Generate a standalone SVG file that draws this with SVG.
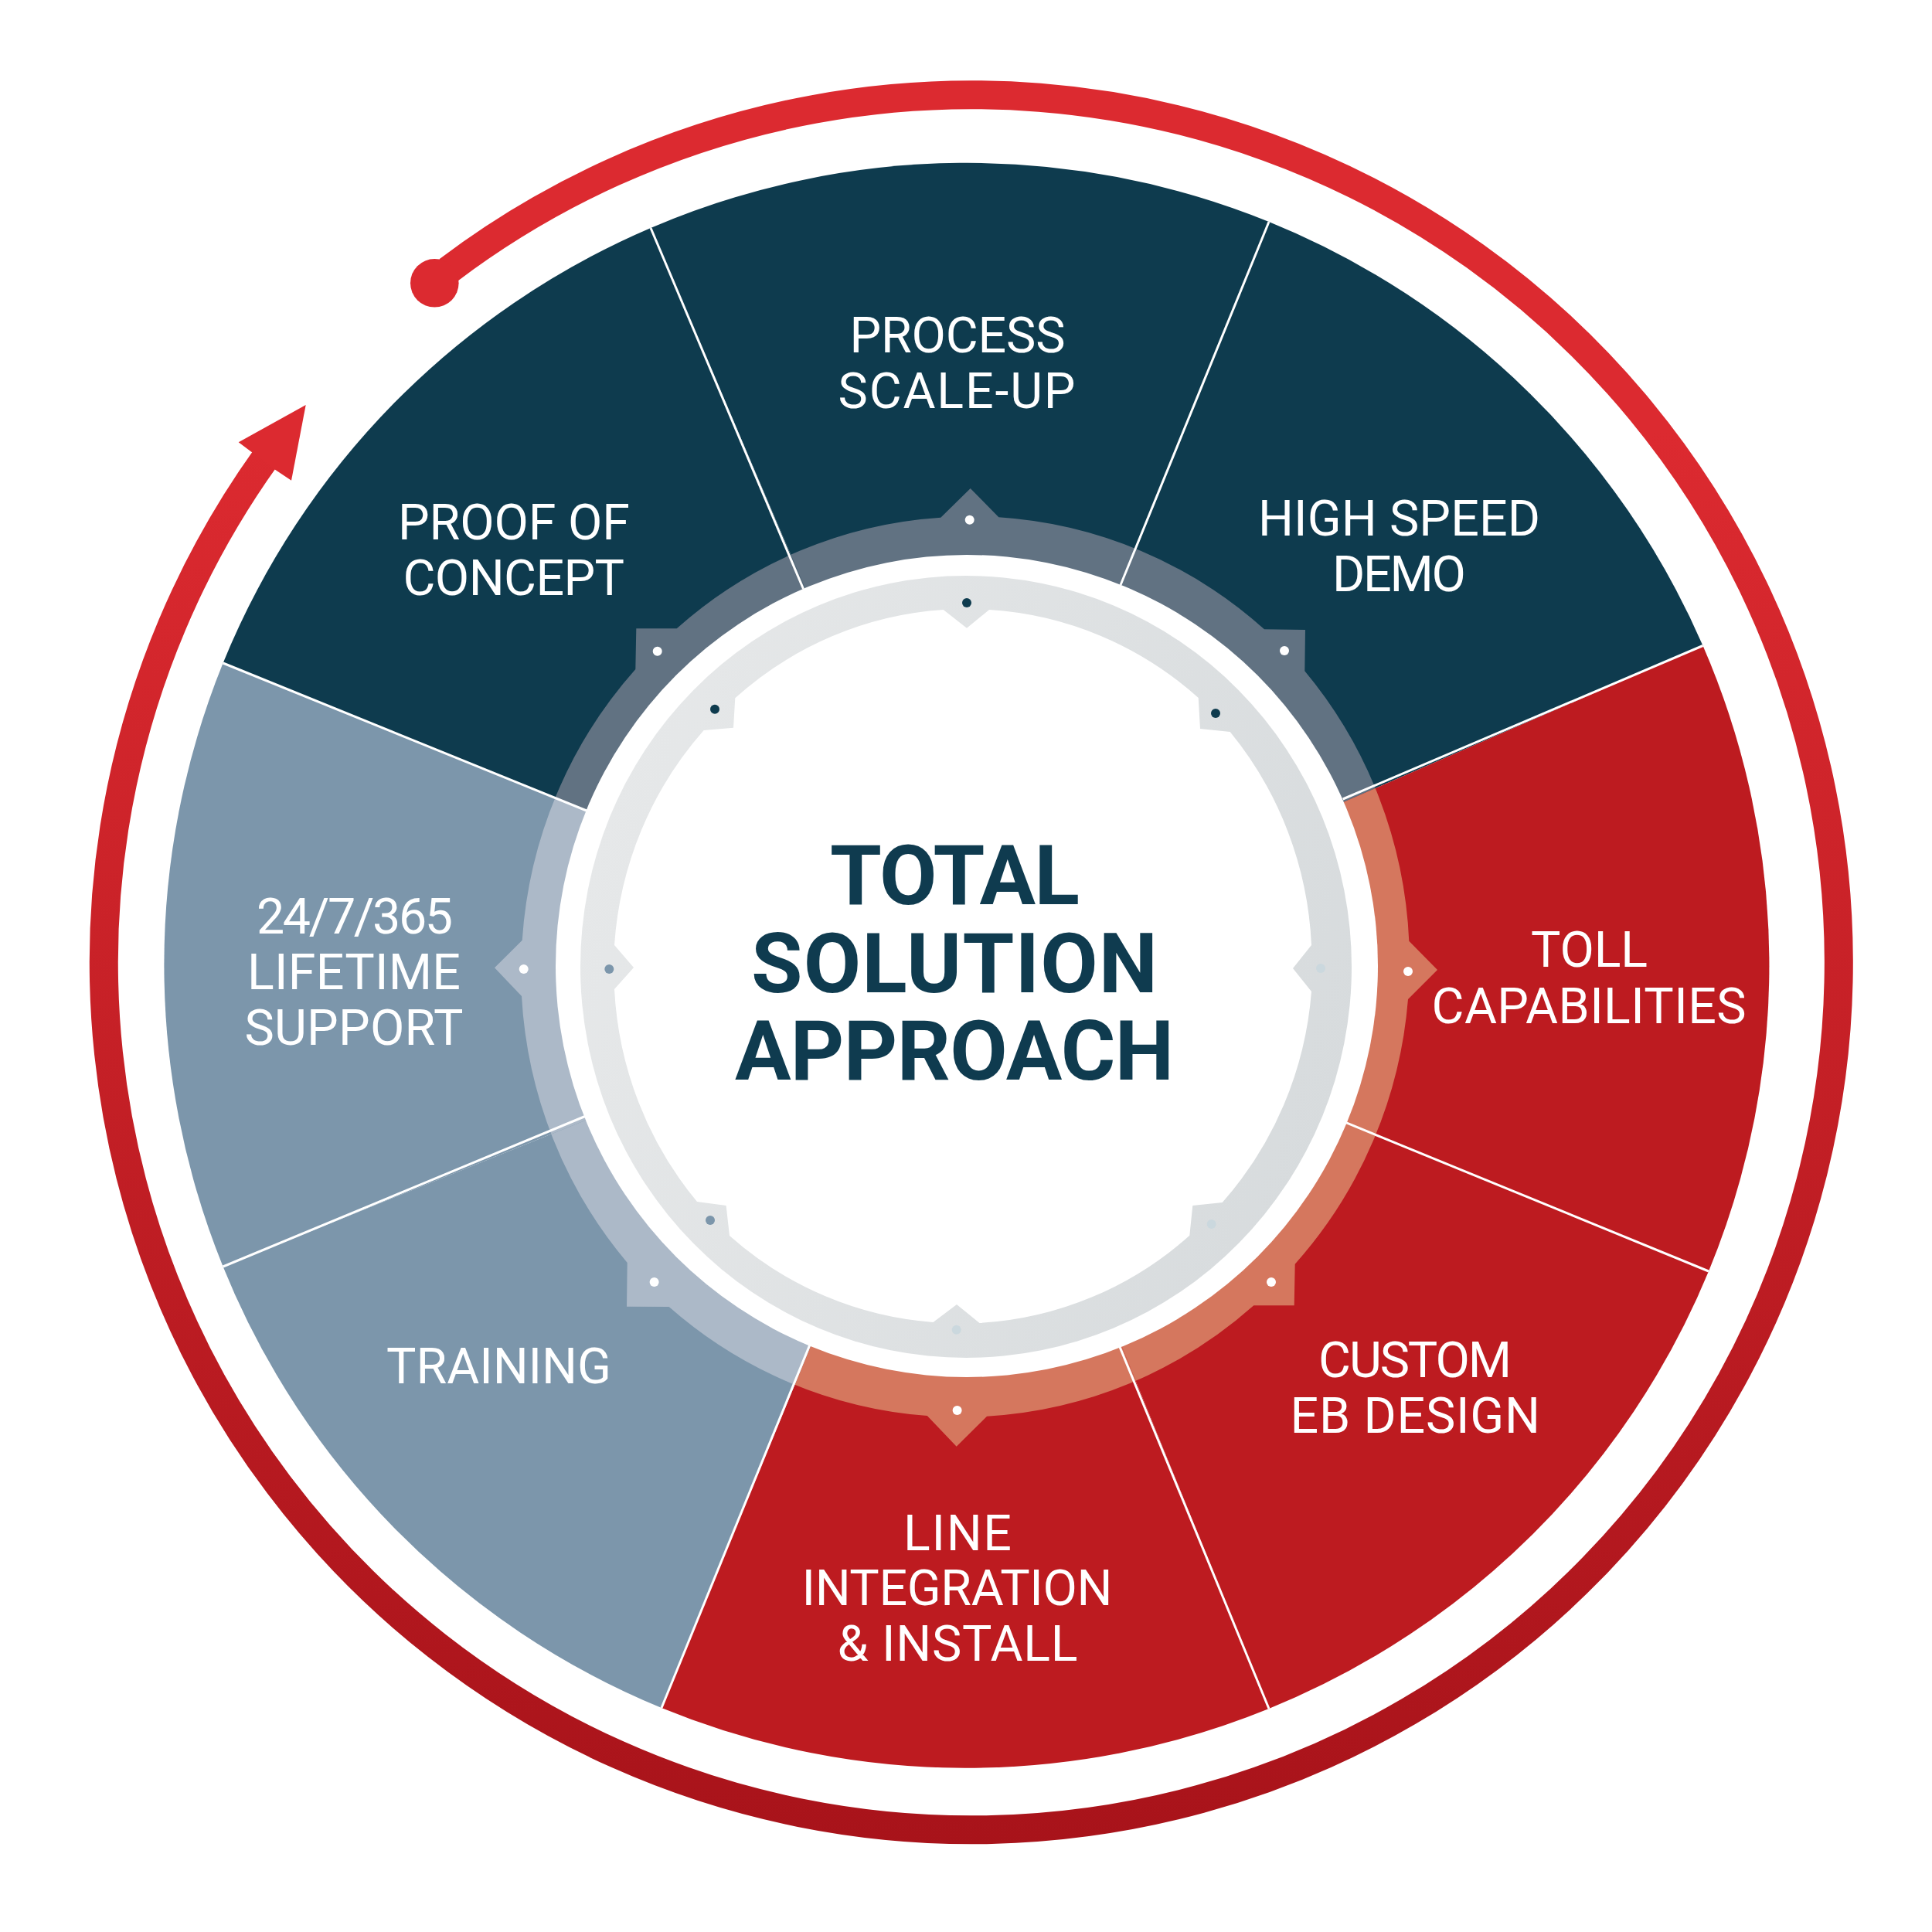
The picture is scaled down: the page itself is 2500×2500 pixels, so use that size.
<svg xmlns="http://www.w3.org/2000/svg" width="2500" height="2500" viewBox="0 0 2500 2500">
<style>
.lbl{font-family:"Roboto","Liberation Sans",sans-serif;font-size:64.5px;fill:#fff}
.ttl{font-family:"Roboto","Liberation Sans",sans-serif;font-weight:700;font-size:108px;fill:#0f3b4f}
.spoke{stroke:#fff;stroke-width:3;fill:none}
.dk{fill:#0e3b4e}.rd{fill:#bd1b20}.st{fill:#7c96ab}
.rdk{fill:#617282}.rrd{fill:#d5775e}.rst{fill:#acb9c8}
.wd{fill:#fff}.ld{fill:#cbd8de}
</style>
<defs>
<linearGradient id="arrowGrad" gradientUnits="userSpaceOnUse" x1="0" y1="100" x2="0" y2="2390">
<stop offset="0.2" stop-color="#dc2a30"/><stop offset="1" stop-color="#a8131a"/>
</linearGradient>
<linearGradient id="ringGrad" gradientUnits="userSpaceOnUse" x1="760" y1="1100" x2="1750" y2="1400">
<stop offset="0" stop-color="#e6e8e9"/><stop offset="1" stop-color="#d7dbdd"/>
</linearGradient>
<path id="ringShape" d="M1292.3,669.3 A573.5,581.5 0 0 1 1636,814.3 L1689,815 L1688.3,868.3 A573.5,581.5 0 0 1 1823.3,1217.7 L1860,1255 L1822,1293 A573.5,581.5 0 0 1 1675.7,1635.7 L1674.7,1689.3 L1622.3,1689.3 A573.5,581.5 0 0 1 1277,1832.7 L1237.7,1871.7 L1199.8,1832 A573.5,581.5 0 0 1 865.7,1691 L811,1690.7 L811.7,1634 A573.5,581.5 0 0 1 675,1289 L640,1252.3 L675.7,1216.7 A573.5,581.5 0 0 1 822.3,866 L823.3,813.3 L875.7,813.3 A573.5,581.5 0 0 1 1217.3,669.7 L1255.7,632 Z"/>
<path id="w1" d="M1251.5,1250 L288.6,858 A1038.5,1038.5 0 0 1 842,295 Z"/>
<path id="w2" d="M1251.5,1250 L842,295 A1038.5,1038.5 0 0 1 1642,287 Z"/>
<path id="w3" d="M1251.5,1250 L1642,287 A1038.5,1038.5 0 0 1 2203.5,835.5 Z"/>
<path id="w4" d="M1251.5,1250 L2203.5,835.5 A1038.5,1038.5 0 0 1 2211,1645 Z"/>
<path id="w5" d="M1251.5,1250 L2211,1645 A1038.5,1038.5 0 0 1 1642,2211 Z"/>
<path id="w6" d="M1251.5,1250 L1642,2211 A1038.5,1038.5 0 0 1 856,2210 Z"/>
<path id="w7" d="M1251.5,1250 L856,2210 A1038.5,1038.5 0 0 1 288.6,1639 Z"/>
<path id="w8" d="M1251.5,1250 L288.6,1639 A1038.5,1038.5 0 0 1 288.6,858 Z"/>
<clipPath id="c1"><use href="#w1"/></clipPath>
<clipPath id="c2"><use href="#w2"/></clipPath>
<clipPath id="c3"><use href="#w3"/></clipPath>
<clipPath id="c4"><use href="#w4"/></clipPath>
<clipPath id="c5"><use href="#w5"/></clipPath>
<clipPath id="c6"><use href="#w6"/></clipPath>
<clipPath id="c7"><use href="#w7"/></clipPath>
<clipPath id="c8"><use href="#w8"/></clipPath>
</defs>
<rect width="2500" height="2500" fill="#fff"/>

<g id="cycle-arrow">
<path d="M579.7,350 A1122.5,1122.5 0 1 1 344,592" fill="none" stroke="url(#arrowGrad)" stroke-width="37"/>
<circle cx="562.3" cy="366.3" r="31.3" fill="#dc2a30"/>
<polygon points="395.7,524 308.7,572.3 326,585.3 356,607.7 377,621.7" fill="#dc2a30"/>
</g>

<g id="node-proof-of-concept"><use href="#w1" class="dk"/><use href="#ringShape" class="rdk" clip-path="url(#c1)"/></g>
<g id="node-process-scale-up"><use href="#w2" class="dk"/><use href="#ringShape" class="rdk" clip-path="url(#c2)"/></g>
<g id="node-high-speed-demo"><use href="#w3" class="dk"/><use href="#ringShape" class="rdk" clip-path="url(#c3)"/></g>
<g id="node-toll-capabilities"><use href="#w4" class="rd"/><use href="#ringShape" class="rrd" clip-path="url(#c4)"/></g>
<g id="node-custom-eb-design"><use href="#w5" class="rd"/><use href="#ringShape" class="rrd" clip-path="url(#c5)"/></g>
<g id="node-line-integration"><use href="#w6" class="rd"/><use href="#ringShape" class="rrd" clip-path="url(#c6)"/></g>
<g id="node-training"><use href="#w7" class="st"/><use href="#ringShape" class="rst" clip-path="url(#c7)"/></g>
<g id="node-lifetime-support"><use href="#w8" class="st"/><use href="#ringShape" class="rst" clip-path="url(#c8)"/></g>

<g id="connectors">
<line class="spoke" x1="842" y1="295" x2="1039.5" y2="762"/>
<line class="spoke" x1="1642" y1="287" x2="1450" y2="757"/>
<line class="spoke" x1="2203.5" y1="835.5" x2="1737.7" y2="1034"/>
<line class="spoke" x1="2211" y1="1645" x2="1741.7" y2="1452.7"/>
<line class="spoke" x1="1642" y1="2211" x2="1449" y2="1743"/>
<line class="spoke" x1="856" y1="2210" x2="1048" y2="1740"/>
<line class="spoke" x1="288.6" y1="1639" x2="757" y2="1444.5"/>
<line class="spoke" x1="288.6" y1="858" x2="759" y2="1049"/>
</g>

<g id="hub">
<circle cx="1251" cy="1250" r="532" fill="#fff"/>
<ellipse cx="1250" cy="1251" rx="499" ry="506" fill="url(#ringGrad)"/>
<path fill="#fff" d="M1280,789 A451.5,462 0 0 1 1550.7,903 L1553,943 L1591.7,947 A451.5,462 0 0 1 1697,1223 L1673,1253 L1697,1283 A451.5,462 0 0 1 1581.7,1556 L1543.3,1560 L1539.3,1598.7 A451.5,462 0 0 1 1267.5,1712 L1238,1688 L1207.5,1711 A451.5,462 0 0 1 944,1599 L939.6,1560 L902,1555 A451.5,462 0 0 1 795,1280 L820,1252 L795,1223 A451.5,462 0 0 1 910.7,945 L949,941.7 L951.3,903.3 A451.5,462 0 0 1 1220.7,789 L1251,812.7 Z"/>
</g>

<g id="ring-dots">
<circle class="wd" cx="1254.7" cy="672.7" r="6"/><circle class="wd" cx="1662" cy="842" r="6"/><circle class="wd" cx="1822" cy="1257" r="6"/><circle class="wd" cx="1645" cy="1659" r="6"/><circle class="wd" cx="1238.6" cy="1825" r="6"/><circle class="wd" cx="846.6" cy="1659" r="6"/><circle class="wd" cx="677.7" cy="1254" r="6"/><circle class="wd" cx="850.7" cy="842.7" r="6"/>
<circle class="dk" cx="1251" cy="780" r="6"/><circle class="dk" cx="1573" cy="923" r="6"/><circle class="ld" cx="1709" cy="1253" r="6"/><circle class="ld" cx="1567.7" cy="1584" r="6"/><circle class="ld" cx="1237.7" cy="1720.7" r="6"/><circle class="st" cx="919" cy="1579" r="6"/><circle class="st" cx="788.3" cy="1254" r="6"/><circle class="dk" cx="925" cy="917.7" r="6"/>
</g>

<g id="labels">
<text class="lbl" x="515" y="697.5" textLength="300" lengthAdjust="spacing">PROOF OF</text>
<text class="lbl" x="521.5" y="769.5" textLength="286.5" lengthAdjust="spacing">CONCEPT</text>
<text class="lbl" x="1099.5" y="456" textLength="279" lengthAdjust="spacing">PROCESS</text>
<text class="lbl" x="1084.5" y="528" textLength="307" lengthAdjust="spacing">SCALE-UP</text>
<text class="lbl" x="1628" y="692.5" textLength="365" lengthAdjust="spacing">HIGH SPEED</text>
<text class="lbl" x="1724" y="765" textLength="173" lengthAdjust="spacing">DEMO</text>
<text class="lbl" x="1981" y="1251" textLength="151" lengthAdjust="spacing">TOLL</text>
<text class="lbl" x="1852.5" y="1324" textLength="407" lengthAdjust="spacing">CAPABILITIES</text>
<text class="lbl" x="1706" y="1781.5" textLength="250" lengthAdjust="spacing">CUSTOM</text>
<text class="lbl" x="1669.5" y="1854" textLength="323.5" lengthAdjust="spacing">EB DESIGN</text>
<text class="lbl" x="1169" y="2005.5" textLength="140" lengthAdjust="spacing">LINE</text>
<text class="lbl" x="1037.5" y="2077" textLength="402" lengthAdjust="spacing">INTEGRATION</text>
<text class="lbl" x="1083.5" y="2149" textLength="311" lengthAdjust="spacing">&amp; INSTALL</text>
<text class="lbl" x="500" y="1789.5" textLength="291" lengthAdjust="spacing">TRAINING</text>
<text class="lbl" x="332" y="1208" textLength="254" lengthAdjust="spacing">24/7/365</text>
<text class="lbl" x="320" y="1280" textLength="276" lengthAdjust="spacing">LIFETIME</text>
<text class="lbl" x="316.5" y="1351.7" textLength="283" lengthAdjust="spacing">SUPPORT</text>
</g>

<g id="node-center-title">
<text class="ttl" x="1074" y="1169.7" textLength="323" lengthAdjust="spacing">TOTAL</text>
<text class="ttl" x="972" y="1284" textLength="526" lengthAdjust="spacing">SOLUTION</text>
<text class="ttl" x="951" y="1397" textLength="568" lengthAdjust="spacing">APPROACH</text>
</g>
</svg>
